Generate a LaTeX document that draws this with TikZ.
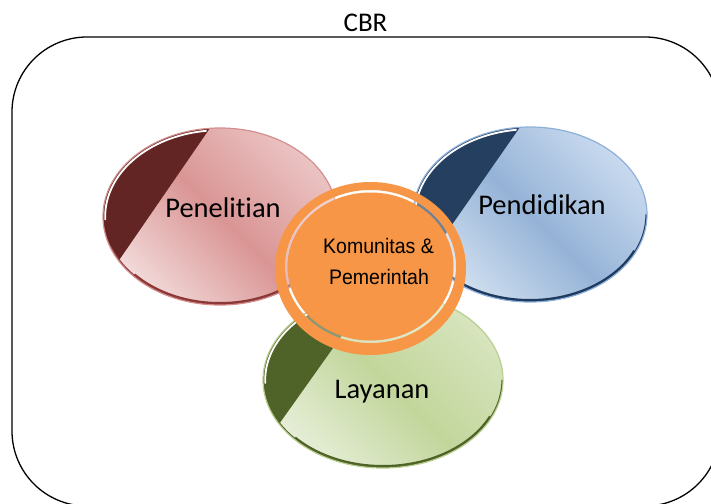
\documentclass[tikz,border=0pt]{standalone}
\usepackage{fontspec}
\setmainfont{Carlito}[RawFeature={-liga}]
\newfontfamily\arialf{Liberation Sans}
\definecolor{redL1}{HTML}{EBC3C3}
\definecolor{redM}{HTML}{D99594}
\definecolor{redL2}{HTML}{F2D9D9}
\definecolor{redD}{HTML}{632523}
\definecolor{redO}{HTML}{D48E8E}
\definecolor{redB}{HTML}{8C3836}
\definecolor{blueL1}{HTML}{C8D9EE}
\definecolor{blueM}{HTML}{95B3D7}
\definecolor{blueL2}{HTML}{D3E1F1}
\definecolor{blueD}{HTML}{243F60}
\definecolor{blueO}{HTML}{8DB0DA}
\definecolor{blueB}{HTML}{1F3A5F}
\definecolor{grnL1}{HTML}{D7E4BD}
\definecolor{grnM}{HTML}{C2D69B}
\definecolor{grnL2}{HTML}{E6EED7}
\definecolor{grnD}{HTML}{4F6228}
\definecolor{grnO}{HTML}{B9CF8F}
\definecolor{grnB}{HTML}{4F6228}
\definecolor{orng}{HTML}{F79646}
% #1 cx, #2 cy, #3 a, #4 b, #5 colour prefix  (y axis points down)
\newcommand{\myvenn}[5]{%
\begin{scope}[shift={(#1,#2)}]
  \path[top color=#5L1, bottom color=#5L2, middle color=#5M, shading angle=-45]
    (0,0) ellipse [x radius=#3pt, y radius=#4pt];
  \begin{scope}
    \clip (0,0) ellipse [x radius=#3pt, y radius=#4pt];
    \fill[#5D] ({#3*cos(95)},{-#4*sin(95)}) -- ({#3*cos(210)},{-#4*sin(210)})
      -- ({-#3-5},{-#4*sin(210)}) -- ({-#3-5},{-#4-5}) -- ({#3*cos(95)},{-#4-5}) -- cycle;
  \end{scope}
  \draw[#5B, line width=1.6pt] plot[domain=200:360, samples=60, smooth]
    ({(#3-0.8)*cos(\x)},{-(#4-0.8)*sin(\x)});
  \draw[#5B, line width=3pt] plot[domain=222:335, samples=50, smooth]
    ({(#3-1.5)*cos(\x)},{-(#4-1.5)*sin(\x)});
  \draw[#5O, line width=1.2pt] (0,0) ellipse [x radius=#3pt, y radius=#4pt];
  \draw[white, line width=1.8pt, line cap=round] plot[domain=97:182, samples=40, smooth]
    ({(#3-2.2)*cos(\x)},{-(#4-2.2)*sin(\x)});
\end{scope}}
\begin{document}
\begin{tikzpicture}[x=1pt,y=-1pt,
  lbl/.style={anchor=base, inner sep=0pt, font=\fontsize{28.5}{34}\selectfont},
  orlbl/.style={anchor=base, inner sep=0pt, font=\arialf\fontsize{21}{25}\selectfont, xscale=0.93}]
\useasboundingbox (0,0) rectangle (711,503);
\clip (0,0) rectangle (711,503);
\fill[white] (0,0) rectangle (711,503);
\draw[line width=1.3pt, rounded corners=75pt] (12,37) rectangle (720,506);
\node[anchor=base, inner sep=0pt, font=\fontsize{27}{32}\selectfont] (cbr) at (365.5,32) {CBR};
\myvenn{220}{216.5}{117}{88.5}{red}
\myvenn{530}{214.5}{117}{87.5}{blue}
\myvenn{383}{380}{120}{88}{grn}
% orange centre
\fill[orng, even odd rule] (370.5,268.5) ellipse [x radius=95.5pt, y radius=86.5pt]
  (370.5,266.5) ellipse [x radius=85.5pt, y radius=76.5pt];
\draw[white, opacity=0.35, line width=2.6pt] (370.5,266.5) ellipse [x radius=84.2pt, y radius=75.2pt];
\fill[orng] (370.5,266.5) ellipse [x radius=83pt, y radius=74pt];
\node[lbl] (pen) at (223,217) {Penelitian};
\node[lbl] (pend) at (542,214) {Pendidikan};
\node[lbl] (lay) at (382,398) {Layanan};
\node[orlbl] (kom) at (378.5,253) {Komunitas \&};
\node[orlbl] (pem) at (379,284) {Pemerintah};
\end{tikzpicture}
\end{document}
